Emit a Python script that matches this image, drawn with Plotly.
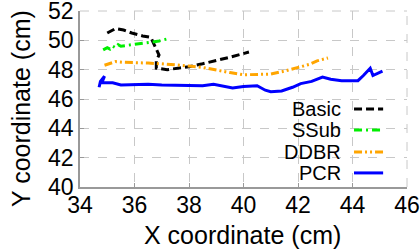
import plotly.graph_objects as go

basic_x = [35.0, 35.3, 35.6, 35.9, 36.3, 36.6, 36.7, 36.8, 36.9, 36.8, 36.8, 37.2, 37.6, 38.0, 38.5, 39.0, 39.5, 40.2]
basic_y = [50.5, 50.8, 50.7, 50.5, 50.3, 50.2, 49.8, 49.4, 49.0, 48.6, 48.1, 48.0, 48.1, 48.2, 48.4, 48.6, 48.85, 49.2]

ssub_x = [34.85, 35.0, 35.1, 35.2, 35.3, 35.4, 35.5, 35.7, 36.0, 36.3, 36.6, 36.9, 37.1, 37.3]
ssub_y = [49.35, 49.5, 49.4, 49.6, 49.5, 49.7, 49.6, 49.65, 49.75, 49.8, 49.85, 49.95, 50.05, 50.15]

ddbr_x = [34.9, 35.1, 35.3, 35.6, 36.0, 36.5, 37.0, 37.5, 38.0, 38.5, 39.0, 39.5, 40.0, 40.5, 41.0, 41.5, 42.0, 42.4, 42.7, 43.0, 43.1]
ddbr_y = [48.3, 48.45, 48.55, 48.5, 48.5, 48.45, 48.4, 48.35, 48.25, 48.15, 47.95, 47.8, 47.65, 47.65, 47.7, 47.9, 48.15, 48.35, 48.6, 48.75, 48.8]

pcr_x = [34.7, 34.75, 34.9, 34.8, 35.0, 35.2, 35.5, 36.0, 36.5, 37.0, 37.5, 38.0, 38.5, 38.9, 39.2, 39.6, 40.0, 40.5, 40.8, 41.0, 41.4, 41.8, 42.1, 42.5, 42.9, 43.2, 43.6, 44.2, 44.4, 44.65, 44.75, 45.1]
pcr_y = [46.8, 47.2, 47.55, 47.1, 47.1, 47.1, 46.95, 47.0, 47.0, 46.95, 46.95, 46.9, 46.9, 47.0, 46.9, 46.75, 46.85, 46.9, 46.6, 46.5, 46.55, 46.8, 47.05, 47.2, 47.5, 47.35, 47.25, 47.25, 47.6, 48.1, 47.6, 47.9]

series_names = ["Basic", "SSub", "DDBR", "PCR"]
x_ticks = [34, 36, 38, 40, 42, 44, 46]
y_ticks = [40, 42, 44, 46, 48, 50, 52]
x_title = "X coordinate (cm)"
y_title = "Y coordinate (cm)"

colors = ["#000000", "#00ee00", "#ffa500", "#0000ff"]
dashes = ["8px,4px", "8px,4px,2px,4px", "8px,3px,2px,3px,2px,3px", "solid"]
data = [(basic_x, basic_y), (ssub_x, ssub_y), (ddbr_x, ddbr_y), (pcr_x, pcr_y)]

fig = go.Figure()
for (xs, ys), name, c, d in zip(data, series_names, colors, dashes):
    fig.add_trace(go.Scatter(x=xs, y=ys, mode="lines", name=name,
                             line=dict(color=c, width=3, dash=d), showlegend=False))

fam = "Liberation Sans, Arial, sans-serif"
tick_font = dict(family=fam, size=23, color="black")
title_font = dict(family=fam, size=25, color="black")
leg_font = dict(family=fam, size=20, color="black")
axis_common = dict(showgrid=True, gridcolor="#c8c8c8", griddash="dash", gridwidth=1,
                   showline=True, linecolor="#999999", linewidth=1.5, mirror=False,
                   ticks="inside", ticklen=4, tickcolor="#999999", tickwidth=1,
                   zeroline=False, tickfont=tick_font, ticklabeloverflow="allow",
                   automargin=False)

fig.update_layout(
    width=420, height=251,
    margin=dict(l=80, r=13, t=11, b=64),
    paper_bgcolor="white", plot_bgcolor="white",
    font=tick_font,
    xaxis=dict(range=[34, 46], tickvals=x_ticks, ticklabelstandoff=-3, **axis_common),
    yaxis=dict(range=[40, 52], tickvals=y_ticks, **axis_common),
)

# axis titles
fig.add_annotation(xref="paper", yref="paper", x=0.497, y=-0.27, text=x_title,
                   showarrow=False, xanchor="center", yanchor="middle", font=title_font)
fig.add_annotation(xref="paper", yref="paper", x=-0.1804, y=0.443, text=y_title, textangle=-90,
                   showarrow=False, xanchor="center", yanchor="middle", font=title_font)

# dashed top and right frame
fig.add_shape(type="line", xref="paper", yref="paper", x0=0, x1=1, y0=1, y1=1,
              line=dict(color="#c8c8c8", width=1, dash="dash"))
fig.add_shape(type="line", xref="paper", yref="paper", x0=1, x1=1, y0=0, y1=1,
              line=dict(color="#c8c8c8", width=1, dash="dash"))

# legend (text left of sample)
leg_y = [0.443, 0.324, 0.199, 0.08]
for name, c, d, yy in zip(series_names, colors, dashes, leg_y):
    fig.add_annotation(xref="paper", yref="paper", x=0.805, y=yy, text=name,
                       showarrow=False, xanchor="right", yanchor="middle", font=leg_font)
    fig.add_shape(type="line", xref="paper", yref="paper", x0=0.838, x1=0.927, y0=yy, y1=yy,
                  line=dict(color=c, width=3, dash=d))

fig.write_html("out.html", config={"displayModeBar": False},
               post_script="document.body.style.margin='0';document.body.style.padding='0';")
